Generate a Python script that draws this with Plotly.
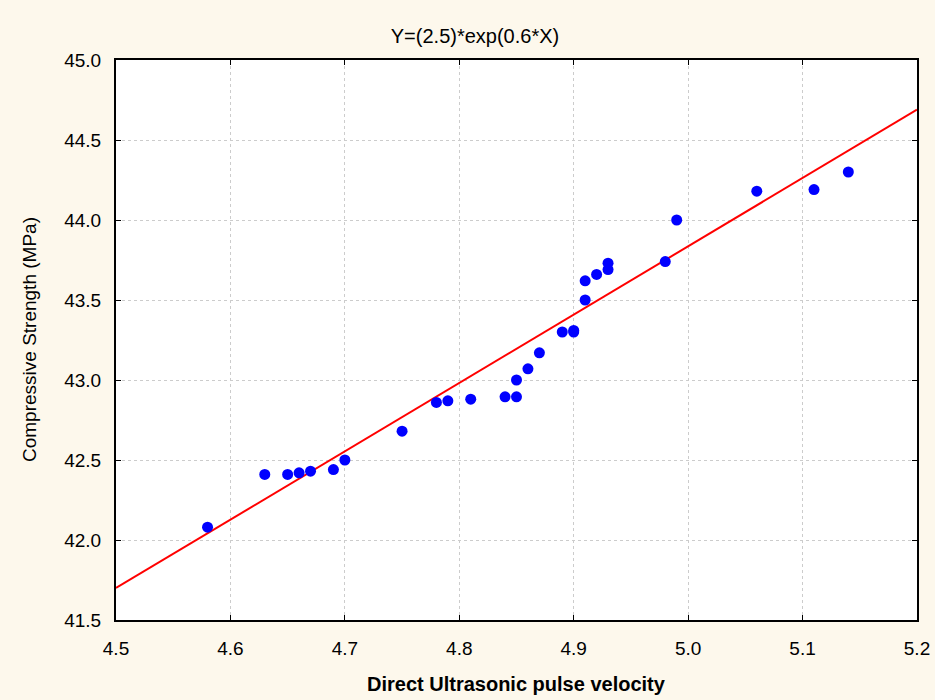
import plotly.graph_objects as go

# Data
velocity = [4.58, 4.63, 4.65, 4.66, 4.67, 4.69, 4.70, 4.75, 4.78, 4.79,
            4.81, 4.84, 4.85, 4.85, 4.86, 4.87, 4.89, 4.90, 4.90, 4.91,
            4.91, 4.92, 4.93, 4.93, 4.98, 4.99, 5.06, 5.11, 5.14]
strength = [42.08, 42.41, 42.41, 42.42, 42.43, 42.44, 42.50, 42.68, 42.86, 42.87,
            42.88, 42.895, 42.895, 43.00, 43.07, 43.17, 43.30, 43.30, 43.31, 43.50,
            43.62, 43.66, 43.69, 43.73, 43.74, 44.00, 44.18, 44.19, 44.30]

fit_x = [4.5, 5.2]
fit_y = [41.70, 44.69]

x_ticks = [4.5, 4.6, 4.7, 4.8, 4.9, 5.0, 5.1, 5.2]
y_ticks = [41.5, 42.0, 42.5, 43.0, 43.5, 44.0, 44.5, 45.0]

title_text = "Y=(2.5)*exp(0.6*X)"
x_title = "Direct Ultrasonic pulse velocity"
y_title = "Compressive Strength (MPa)"

FONT = "Liberation Sans, Arial, sans-serif"
BG = "#fdf8ec"

fig = go.Figure()
fig.add_trace(go.Scatter(x=fit_x, y=fit_y, mode="lines",
                         line=dict(color="#ff0000", width=2),
                         showlegend=False, hoverinfo="skip"))
fig.add_trace(go.Scatter(x=velocity, y=strength, mode="markers",
                         marker=dict(color="#0000ff", size=11, line=dict(width=0)),
                         showlegend=False))

axis_common = dict(
    showline=True, linecolor="black", linewidth=2, mirror="allticks",
    ticks="inside", ticklen=5, tickcolor="black", tickwidth=1,
    showgrid=True, gridcolor="#cccccc", gridwidth=1, griddash="dot",
    zeroline=False, tickfont=dict(family=FONT, size=19, color="black"),
)

fig.update_xaxes(range=[4.5, 5.2], tickvals=x_ticks,
                 ticktext=[f"{v:.1f}" for v in x_ticks],
                 ticklabelstandoff=10, **axis_common)
fig.update_yaxes(range=[41.5, 45.0], tickvals=y_ticks,
                 ticktext=[f"{v:.1f}" for v in y_ticks],
                 ticklabelstandoff=9, **axis_common)

fig.update_layout(
    width=935, height=700,
    margin=dict(l=116, r=18, t=60, b=80, autoexpand=False),
    paper_bgcolor=BG, plot_bgcolor="white",
    font=dict(family=FONT, color="black"),
    title=dict(text=title_text, x=0.508, xref="container", xanchor="center",
               y=1 - 36 / 700, yref="container", yanchor="middle",
               font=dict(family=FONT, size=20, color="black")),
    annotations=[
        dict(text=x_title, xref="paper", yref="paper", x=0.5, y=-(684 - 620) / 560,
             xanchor="center", yanchor="middle", showarrow=False,
             font=dict(family=FONT, size=20, color="black", weight="bold")),
        dict(text=y_title, xref="paper", yref="paper", x=-(116 - 29) / 801, y=0.5,
             xanchor="center", yanchor="middle", showarrow=False, textangle=-90,
             font=dict(family=FONT, size=19, color="black")),
    ],
)

fig.write_html(
    "out.html",
    config={"displayModeBar": False},
    post_script=(
        "document.body.style.margin='0';"
        "document.body.style.padding='0';"
        "document.body.style.overflow='hidden';"
        f"document.body.style.background='{BG}';"
    ),
)
